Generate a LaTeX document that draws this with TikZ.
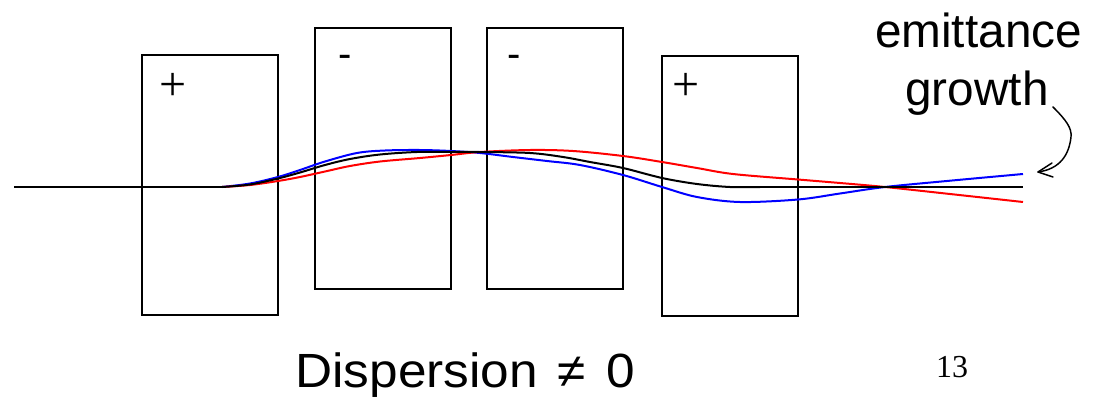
\documentclass[tikz,border=0pt]{standalone}
\usepackage{fontspec}
\setmainfont{Liberation Sans}
\newfontfamily\pagefont{Liberation Serif}
\newfontfamily\capfont[FakeStretch=1.07]{Liberation Sans}
\tikzset{
  magnet/.style={draw=black,line width=1.5pt,rectangle,inner sep=0pt,anchor=north west},
  ray/.style={line width=1.5pt},
  bigtext/.style={font=\fontsize{35.8}{44}\selectfont,inner sep=0pt},
  captext/.style={font=\capfont\fontsize{36}{44}\selectfont,inner sep=0pt},
  minustext/.style={font=\fontsize{30}{32}\selectfont,inner sep=0pt},
  plustext/.style={font=\pagefont\fontsize{36}{38}\selectfont,inner sep=0pt}
}
\begin{document}
\begin{tikzpicture}[x=0.75pt,y=-0.75pt]
\useasboundingbox (0,0) rectangle (1104,400);
\node[magnet,minimum width=102pt,minimum height=195pt] (m1) at (141,53.5) {};
\node[magnet,minimum width=102pt,minimum height=195.75pt] (m2) at (313.5,26.5) {};
\node[magnet,minimum width=102pt,minimum height=195.75pt] (m3) at (486,26.5) {};
\node[magnet,minimum width=102pt,minimum height=195pt] (m4) at (661,54.5) {};
\node[plustext] (s1) at (173,87) {+};
\node[minustext] (s2) at (345.5,61) {-};
\node[minustext] (s3) at (514.5,61) {-};
\node[plustext] (s4) at (686,87) {+};
\draw[ray,blue] plot[smooth,tension=0.55] coordinates {(222,187) (250,183.5) (278,177) (300,170) (325,161.5) (357,153) (385,150.5) (420,150) (451,151) (480,153) (513,157) (547,161) (580,165) (623,175) (662,187) (697,197) (740,202) (798,199.5) (840,193.5) (885,187) (950,180.7) (1023,174)};
\draw[ray,red] plot[smooth,tension=0.55] coordinates {(222,187) (250,185) (278,181) (300,177) (325,171.5) (350,166) (380,161.5) (420,158) (451,155) (480,152) (530,150) (573,151) (623,156) (662,162) (697,168) (733,174) (798,179.5) (840,183) (885,187) (950,194) (1023,202)};
\draw[ray,black] plot[smooth,tension=0.55] coordinates {(222,187) (250,184.5) (278,178.5) (300,172.5) (325,165) (350,159) (380,154.5) (417,152) (451,152) (480,152) (530,153) (563,157) (590,162) (623,168) (662,178) (697,184) (730,187) (760,187)};
\coordinate (bl) at (14,187);
\coordinate (bs) at (222,187);
\coordinate (be) at (760,187);
\coordinate (br) at (1023,187);
\draw[ray,black] (bl) -- (bs);
\draw[ray,black] (be) -- (br);
\node[bigtext,anchor=base] (lab1) at (978.5,47) {emittance};
\node[bigtext,anchor=base] (lab2) at (977,105) {growth};
\coordinate (as) at (1053,107);
\coordinate (ae) at (1038,172);
\coordinate (b1) at (1052,163);
\coordinate (b2) at (1053,177);
\draw[line width=1.1pt,line cap=round,line join=round] (as) .. controls (1066,120) and (1072,128) .. (1071,137) .. controls (1069,155) and (1060,169) .. (ae);
\draw[line width=1.1pt,line cap=round,line join=round] (b1) -- (ae) -- (b2);
\node[captext,anchor=base] (cap) at (465,387) {Dispersion\hspace{15pt}≠\hspace{15pt}0};
\node[inner sep=0pt,font=\pagefont\fontsize{24}{26}\selectfont] (pg) at (952,367) {13};
\end{tikzpicture}
\end{document}
